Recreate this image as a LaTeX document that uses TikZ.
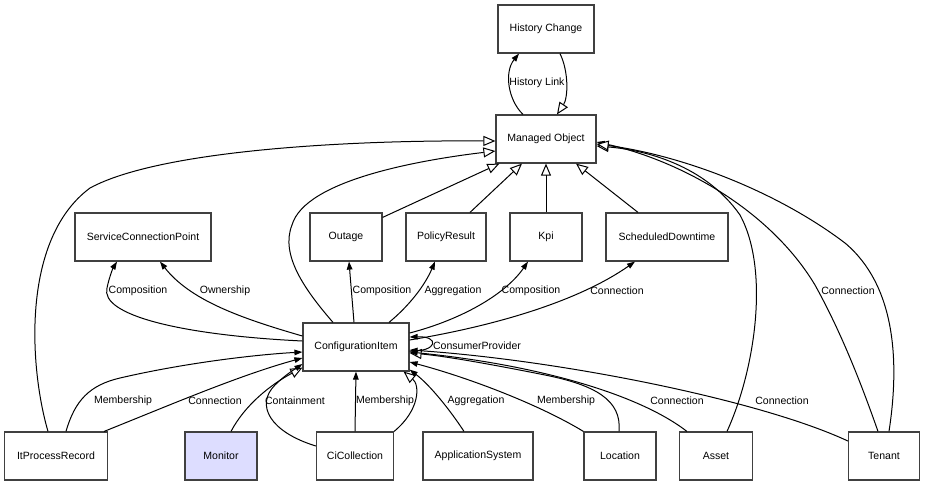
\documentclass[tikz,border=0pt]{standalone}
\usepackage{fontspec}
\setmainfont{Liberation Sans}
\usetikzlibrary{arrows.meta,calc}
\definecolor{monfill}{HTML}{DDDDFF}
\definecolor{boxline}{HTML}{404040}
\tikzset{
  cls/.style={draw=boxline, line width=0.9pt, fill=white, minimum height=36pt, inner sep=0pt, font=\fontsize{7.9}{9.5}\selectfont},
  lbl/.style={inner sep=0pt, font=\fontsize{7.9}{9.5}\selectfont},
  edge/.style={line width=0.75pt, draw=black},
  assoc/.style={edge, -{Triangle[length=6pt,width=4.2pt]}},
  gen/.style={edge, -{Triangle[open,length=9pt,width=7.5pt,fill=white]}},
}
\begin{document}
\begin{tikzpicture}[x=0.75pt,y=-0.75pt]
\useasboundingbox (0,0) rectangle (926,487);
% nodes
\node[cls, minimum width=72pt] (HC) at (546,29) {History Change};
\node[cls, minimum width=75pt] (MO) at (546,139) {Managed Object};
\node[cls, minimum width=102pt] (SCP) at (143,237) {ServiceConnectionPoint};
\node[cls, minimum width=54pt] (OUT) at (346,237) {Outage};
\node[cls, minimum width=60pt] (PR) at (446,237) {PolicyResult};
\node[cls, minimum width=54pt] (KPI) at (546,237) {Kpi};
\node[cls, minimum width=91.5pt] (SD) at (667,237) {ScheduledDowntime};
\node[cls, minimum width=79.5pt] (CI) at (356,347) {ConfigurationItem};
\node[cls, minimum width=77.25pt] (IPR) at (56,456) {ItProcessRecord};
\node[cls, minimum width=54pt, fill=monfill] (MON) at (221,456) {Monitor};
\node[cls, minimum width=57.75pt] (CC) at (355,456) {CiCollection};
\node[cls, minimum width=82.5pt] (AS) at (478,456) {ApplicationSystem};
\node[cls, minimum width=54pt] (LOC) at (620,456) {Location};
\node[cls, minimum width=54.75pt] (AST) at (716,456) {Asset};
\node[cls, minimum width=53.25pt] (TEN) at (884,456) {Tenant};

% History link
\draw[assoc] ($(MO.north)+(-23,0)$) .. controls (508,100) and (504,72) .. ($(HC.south)+(-27,0)$);
\draw[gen] ($(HC.south)+(14,0)$) .. controls (569,72) and (568,98) .. ($(MO.north)+(11,0)$);
\node[lbl] (lHL) at (537,83) {History Link};

% generalizations to Managed Object
\draw[gen] ($(IPR.north)+(-8,0)$) .. controls (30,370) and (20,240) .. (90,188) .. controls (160,150) and (350,140) .. ($(MO.west)+(0,2)$);
\draw[gen] ($(CI.north)+(-23,0)$) .. controls (305,290) and (280,255) .. (292,225) .. controls (305,180) and (420,160) .. ($(MO.west)+(0,12)$);
\draw[gen] ($(OUT.north east)+(0,5)$) -- ($(MO.south west)+(4,0)$);
\draw[gen] ($(PR.north)+(24,0)$) -- ($(MO.south)+(-24,0)$);
\draw[gen] (KPI.north) -- (MO.south);
\draw[gen] ($(SD.north)+(-29,0)$) -- ($(MO.south)+(30,0)$);
\draw[gen] ($(AST.north)+(11,0)$) .. controls (755,370) and (770,270) .. (740,215) .. controls (705,165) and (645,150) .. ($(MO.east)+(0,7)$);
\draw[assoc] ($(TEN.north)+(-6,0)$) .. controls (860,380) and (840,330) .. (815,285) .. controls (770,210) and (680,160) .. ($(MO.east)+(0,3)$);
\draw[gen] ($(TEN.north)+(5,0)$) .. controls (900,360) and (895,285) .. (845,243) .. controls (775,190) and (680,155) .. ($(MO.east)+(0,5)$);
\node[lbl] (lTM) at (848,291) {Connection};

% associations from ConfigurationItem upwards
\draw[assoc] ($(CI.west)+(0,-6)$) .. controls (180,335) and (100,315) .. (107,288) .. controls (109,278) and (113,268) .. ($(SCP.south)+(-26,0)$);
\draw[assoc] ($(CI.west)+(0,-11)$) .. controls (240,318) and (190,300) .. ($(SCP.south)+(17,0)$);
\draw[assoc] ($(CI.north)+(-2,0)$) -- ($(OUT.south)+(3,0)$);
\draw[assoc] ($(CI.north)+(33,0)$) .. controls (410,305) and (425,285) .. ($(PR.south)+(-11,0)$);
\draw[assoc] ($(CI.east)+(0,-14)$) .. controls (460,320) and (505,295) .. ($(KPI.south)+(-18,0)$);
\draw[assoc] ($(CI.east)+(0,-7)$) .. controls (500,325) and (580,300) .. ($(SD.south)+(-32,0)$);
\draw[assoc] ($(CI.east)+(0,4)$) .. controls (438,352) and (440,336) .. ($(CI.east)+(0,-10)$);
\node[lbl] (l1) at (138,291) {Composition};
\node[lbl] (l2) at (225,291) {Ownership};
\node[lbl] (l3) at (382,291) {Composition};
\node[lbl] (l4) at (453,291) {Aggregation};
\node[lbl] (l5) at (531,291) {Composition};
\node[lbl] (l6) at (617,291) {Connection};
\node[lbl] (l7) at (477,346) {ConsumerProvider};

% from the bottom row to ConfigurationItem
\draw[assoc] ($(IPR.north)+(10,0)$) .. controls (75,400) and (90,385) .. (120,378) .. controls (180,364) and (250,355) .. ($(CI.west)+(0,5)$);
\draw[assoc] ($(IPR.north east)+(-4,0)$) .. controls (170,405) and (240,375) .. ($(CI.west)+(0,11)$);
\draw[gen] ($(MON.north)+(10,0)$) .. controls (245,405) and (270,385) .. ($(CI.south west)+(0,-4)$);
\draw[assoc] ($(CC.west)+(0,-10)$) .. controls (270,432) and (255,405) .. (275,385) .. controls (285,375) and (295,369) .. ($(CI.west)+(0,17)$);
\draw[assoc] (CC.north) -- (CI.south);
\draw[gen] (CC.north east) .. controls (420,410) and (420,385) .. ($(CI.south east)+(-6,0)$);
\draw[assoc] ($(AS.north)+(-14,0)$) .. controls (450,410) and (430,385) .. ($(CI.south east)+(0,-2)$);
\draw[assoc] (LOC.north west) .. controls (540,405) and (470,378) .. ($(CI.east)+(0,15)$);
\draw[gen] ($(LOC.north)+(-1,0)$) .. controls (622,400) and (595,385) .. (545,375) .. controls (495,365) and (445,356) .. ($(CI.east)+(0,6)$);
\draw[assoc] ($(AST.north west)+(8,0)$) .. controls (640,395) and (540,365) .. ($(CI.east)+(0,5)$);
\draw[assoc] ($(TEN.west)+(0,-15)$) .. controls (760,400) and (560,360) .. ($(CI.east)+(0,3)$);
\node[lbl] (b1) at (123,401) {Membership};
\node[lbl] (b2) at (215,401) {Connection};
\node[lbl] (b3) at (295,401) {Containment};
\node[lbl] (b4) at (385,401) {Membership};
\node[lbl] (b5) at (476,401) {Aggregation};
\node[lbl] (b6) at (566,401) {Membership};
\node[lbl] (b7) at (677,401) {Connection};
\node[lbl] (b8) at (782,401) {Connection};
\end{tikzpicture}
\end{document}
